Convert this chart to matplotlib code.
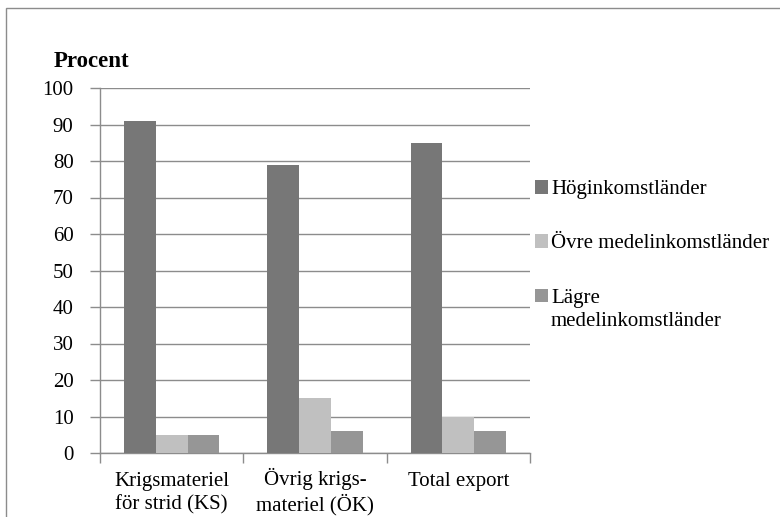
import matplotlib
matplotlib.use("Agg")
import matplotlib.pyplot as plt
import matplotlib.transforms as mtransforms
from matplotlib.patches import Rectangle
import numpy as np

categories = ["Krigsmateriel\nför strid (KS)", "Övrig krigs-\nmateriel (ÖK)", "Total export"]
series_names = ["Höginkomstländer", "Övre medelinkomstländer", "Lägre\nmedelinkomstländer"]
hog = [91, 79, 85]
ovre = [5, 15, 10]
lagre = [5, 6, 6]
yticks = [0, 10, 20, 30, 40, 50, 60, 70, 80, 90, 100]

colors = ["#777777", "#c0c0c0", "#969696"]
grid_c = "#8c8c8c"

plt.rcParams['font.family'] = ['Liberation Serif', 'DejaVu Serif']
fs = 15

W, H = 780, 517
fig = plt.figure(figsize=(W / 100, H / 100), dpi=100)
fig.patch.set_facecolor("white")
fig.patches.append(Rectangle((6 / W, -0.1), 1.2, (H - 8) / H + 0.1, transform=fig.transFigure,
                             fill=False, edgecolor="#8c8c8c", linewidth=1.0))

ax = fig.add_axes([100 / W, 1 - 453 / H, 430 / W, 365 / H])
x = np.arange(len(categories))
w = 1 / 4.5
for i, (vals, name) in enumerate(zip([hog, ovre, lagre], series_names)):
    ax.bar(x + (i - 1) * w, vals, width=w, color=colors[i], label=name, zorder=3)

ax.set_xlim(-0.5, len(categories) - 0.5)
ax.set_ylim(0, 100)
ax.set_yticks(yticks)
ax.set_yticklabels([str(v) for v in yticks], fontsize=fs)
ax.yaxis.grid(True, color=grid_c, linewidth=1.0, zorder=0)
ax.set_axisbelow(True)
ax.set_xticks(x)
ax.set_xticklabels(categories, fontsize=fs, linespacing=1.25)
ax.set_xticks(np.arange(len(categories) + 1) - 0.5, minor=True)
ax.tick_params(axis="x", which="major", length=0, pad=14)
ax.tick_params(axis="x", which="minor", length=7, color=grid_c, width=1.0)
ax.tick_params(axis="y", length=7, color=grid_c, width=1.0, pad=12)
for s in ["top", "right"]:
    ax.spines[s].set_visible(False)
for s in ["left", "bottom"]:
    ax.spines[s].set_color(grid_c)
    ax.spines[s].set_linewidth(1.0)

# labels starting with an accented capital sit lower with va='top'; lift them to align lines
for lbl in ax.get_xticklabels():
    if lbl.get_text().startswith("Ö"):
        lbl.set_transform(lbl.get_transform() +
                          mtransforms.ScaledTranslation(0, 5 / 100, fig.dpi_scale_trans))

fig.text(54 / W, 1 - 67 / H, "Procent", fontsize=16.5, fontweight="bold", ha="left", va="baseline")

handles, labels = ax.get_legend_handles_labels()
leg = fig.legend(handles, labels, loc="upper left", bbox_to_anchor=(535 / W, 1 - 180 / H),
                 frameon=False, fontsize=fs, handlelength=0.62, handleheight=0.62,
                 handletextpad=0.15, labelspacing=1.7, borderpad=0, borderaxespad=0)
for t in leg.get_texts():
    t.set_linespacing(1.3)
for col in leg._legend_handle_box.get_children():
    for item in col.get_children():
        item.align = "top"

fig.savefig("out.png", dpi=100)
